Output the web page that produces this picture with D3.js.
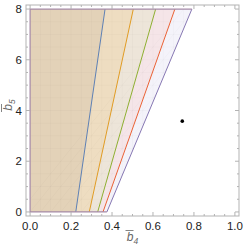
<!DOCTYPE html>
<html>
<head>
<meta charset="utf-8">
<script src="https://cdn.jsdelivr.net/npm/d3@7"></script>
<style>
  body { margin: 0; background: #fff; }
  text { font-family: "Liberation Sans", "DejaVu Sans", sans-serif; }
</style>
</head>
<body>
<div id="chart"></div>
<script>
const width = 245;
const height = 251;

// region boundaries: x at b5 = 0 and x at b5 = 8
const regionNames = ["blue", "orange", "green", "red", "purple"];
const bottomX = [0.223, 0.289, 0.330, 0.356, 0.375];
const topX = [0.366, 0.504, 0.613, 0.707, 0.790];
const colors = ["#5E81B5", "#E19C24", "#8FB032", "#EB6235", "#8778B3"];
const fills = ["#c9b9a6", "#f2c98a", "#d9e3b5", "#f7c7c0", "#dcd7f0"];
const yMin = 0, yMax = 8;

const point = [0.743, 3.58];

const xTicks = [0, 0.2, 0.4, 0.6, 0.8, 1.0];
const yTicks = [0, 2, 4, 6, 8];

const margin = { left: 26, right: 6, top: 5, bottom: 35 };

let svg = d3
  .select("#chart")
  .append("svg")
  .attr("width", width)
  .attr("height", height);

let x = d3.scaleLinear().domain([-0.02, 1.02]).range([margin.left, width - margin.right]);
let y = d3.scaleLinear().domain([-0.16, 8.16]).range([height - margin.bottom, margin.top]);

let polys = regionNames.map((n, i) => ({
  color: colors[i],
  fill: fills[i],
  pts: [[0, yMin], [bottomX[i], yMin], [topX[i], yMax], [0, yMax]]
}));

let line = d3.line().x((d) => x(d[0])).y((d) => y(d[1]));

let defs = svg.append("defs");
defs.append("clipPath").attr("id", "outer")
  .append("path")
  .attr("d", line(polys[4].pts) + "Z");

svg.selectAll("path.fill")
  .data(polys.slice().reverse())
  .enter()
  .append("path")
  .attr("class", "fill")
  .attr("d", (d) => line(d.pts) + "Z")
  .attr("fill", (d) => d.fill)
  .attr("fill-opacity", 0.3)
  .attr("stroke", "none");

// faint mesh
let mesh = svg.append("g").attr("clip-path", "url(#outer)")
  .attr("stroke", "#000").attr("stroke-opacity", 0.035).attr("stroke-width", 0.6);
d3.range(0, 0.85, 0.05).forEach((v) => {
  mesh.append("line").attr("x1", x(v)).attr("x2", x(v)).attr("y1", y(0)).attr("y2", y(8));
});
d3.range(0, 8.01, 0.5).forEach((v) => {
  mesh.append("line").attr("x1", x(0)).attr("x2", x(0.8)).attr("y1", y(v)).attr("y2", y(v));
});
d3.range(-8, 1, 0.5).forEach((v) => {
  mesh.append("line")
    .attr("x1", x(0)).attr("y1", y(v))
    .attr("x2", x(0.8)).attr("y2", y(v + 8));
});

// slanted boundary of each region
svg.selectAll("path.edge")
  .data(polys)
  .enter()
  .append("path")
  .attr("class", "edge")
  .attr("d", (d) => line([d.pts[1], d.pts[2]]))
  .attr("fill", "none")
  .attr("stroke", (d) => d.color)
  .attr("stroke-width", 1);

// shared left / top / bottom boundary
svg.append("path")
  .attr("d", line([[topX[4], yMax], [0, yMax], [0, yMin], [bottomX[4], yMin]]))
  .attr("fill", "none")
  .attr("stroke", "#a58aa8")
  .attr("stroke-width", 1.2);

svg.append("circle")
  .attr("cx", x(point[0]))
  .attr("cy", y(point[1]))
  .attr("r", 1.8)
  .attr("fill", "#000");

// frame
let x0 = x.range()[0], x1 = x.range()[1];
let y0 = y.range()[0], y1 = y.range()[1];
let frame = svg.append("g").attr("stroke", "#b3b3b3").attr("stroke-width", 1);
frame.append("rect")
  .attr("x", x0).attr("y", y1)
  .attr("width", x1 - x0).attr("height", y0 - y1)
  .attr("fill", "none");

let xMinor = d3.range(0, 1.001, 0.05);
let yMinor = d3.range(0, 8.001, 0.5);
xMinor.forEach((v) => {
  let major = xTicks.some((t) => Math.abs(t - v) < 1e-6);
  let len = major ? 4 : 2;
  frame.append("line").attr("x1", x(v)).attr("x2", x(v)).attr("y1", y0).attr("y2", y0 - len);
  frame.append("line").attr("x1", x(v)).attr("x2", x(v)).attr("y1", y1).attr("y2", y1 + len);
});
yMinor.forEach((v) => {
  let major = yTicks.some((t) => Math.abs(t - v) < 1e-6);
  let len = major ? 4 : 2;
  frame.append("line").attr("y1", y(v)).attr("y2", y(v)).attr("x1", x0).attr("x2", x0 + len);
  frame.append("line").attr("y1", y(v)).attr("y2", y(v)).attr("x1", x1).attr("x2", x1 - len);
});

svg.selectAll("text.xt")
  .data(xTicks)
  .enter()
  .append("text")
  .attr("x", (d) => x(d))
  .attr("y", y0 + 14)
  .attr("text-anchor", "middle")
  .attr("font-size", 11.5)
  .attr("fill", "#222")
  .text((d) => d.toFixed(1));

svg.selectAll("text.yt")
  .data(yTicks)
  .enter()
  .append("text")
  .attr("x", x0 - 4)
  .attr("y", (d) => y(d) + 4)
  .attr("text-anchor", "end")
  .attr("font-size", 11.5)
  .attr("fill", "#222")
  .text((d) => d);

// axis titles
function barLabel(g, sub) {
  g.append("tspan").text("b");
  g.append("tspan").attr("font-size", 8.5).attr("dy", 3).text(sub);
}
let xl = svg.append("text")
  .attr("x", (x0 + x1) / 2)
  .attr("y", 241)
  .attr("text-anchor", "middle")
  .attr("font-size", 12)
  .attr("font-style", "italic")
  .attr("fill", "#666");
barLabel(xl, "4");
svg.append("line")
  .attr("x1", (x0 + x1) / 2 - 7).attr("x2", (x0 + x1) / 2 + 1)
  .attr("y1", 230.5).attr("y2", 230.5)
  .attr("stroke", "#666").attr("stroke-width", 0.8);

let yl = svg.append("g").attr("transform", "translate(12,105) rotate(-90)");
let ylt = yl.append("text")
  .attr("text-anchor", "middle")
  .attr("font-size", 12)
  .attr("font-style", "italic")
  .attr("fill", "#666");
barLabel(ylt, "5");
yl.append("line")
  .attr("x1", -7).attr("x2", 1)
  .attr("y1", -10.5).attr("y2", -10.5)
  .attr("stroke", "#666").attr("stroke-width", 0.8);
</script>
</body>
</html>
